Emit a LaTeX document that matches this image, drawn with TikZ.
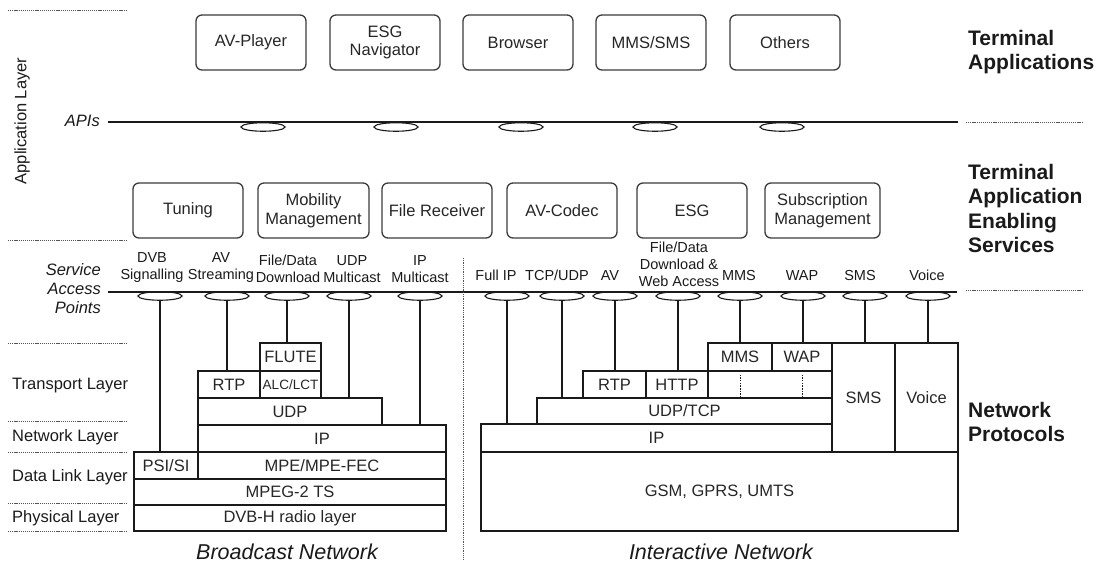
\documentclass[tikz,border=0pt]{standalone}
\usepackage{fontspec}
\setmainfont{Liberation Sans}
\usetikzlibrary{shapes.geometric,calc}

\definecolor{ink}{HTML}{1A1A1A}
\definecolor{txt}{HTML}{262626}
\definecolor{guidecol}{HTML}{555555}

% box spanning (x1,y1)-(x2,y2) in pixel units
\newcommand\spanbox[7]{%
  \pgfmathsetmacro\boxw{#5-#3}\pgfmathsetmacro\boxh{#6-#4}%
  \node[#1, minimum width=\boxw pt, minimum height=\boxh pt] (#2)
    at ({(#3+#5)/2},{(#4+#6)/2}) {#7};}

\begin{document}
\begin{tikzpicture}[x=1pt,y=-1pt,
  appbox/.style={draw=ink!85, line width=1.3pt, rounded corners=6pt, inner sep=0pt,
    align=center, text=txt, font=\fontsize{16.5}{18.5}\selectfont},
  proto/.style={draw=ink, line width=1.1pt, inner sep=0pt, align=center, text=txt,
    font=\fontsize{16.5}{18.5}\selectfont},
  sap/.style={draw=ink, ellipse, line width=1.1pt, minimum width=44pt,
    minimum height=8.5pt, inner sep=0pt},
  saplbl/.style={anchor=south, inner sep=0pt, align=center, text=ink,
    font=\fontsize{14.5}{17}\selectfont},
  conn/.style={draw=ink, line width=1.1pt},
  bus/.style={draw=ink, line width=1.4pt},
  guide/.style={draw=guidecol, line width=0.8pt, dash pattern=on 1.2pt off 0.9pt},
  passline/.style={draw=ink, line width=1pt, dash pattern=on 1.5pt off 1.2pt},
  layerlbl/.style={anchor=west, inner sep=0pt, text=ink, font=\fontsize{16.5}{19}\selectfont},
  heading/.style={anchor=north west, inner sep=0pt, align=left, text=ink,
    font=\fontsize{21}{24.5}\selectfont\bfseries},
  netlbl/.style={inner sep=0pt, text=ink, font=\fontsize{21.5}{24}\selectfont\itshape}
]
\useasboundingbox (0,0) rectangle (1101,566);

% ---------- left layer guides ----------
\foreach \y in {10,240,343,421,452,503,531}
  \draw[guide] (8,\y) -- (126,\y);
\draw[guide] (966,122) -- (1083,122);
\draw[guide] (966,290) -- (1083,290);

\node[rotate=90, inner sep=0pt, text=ink, font=\fontsize{16.5}{19}\selectfont] (applayer) at (22,121) {Application Layer};
\node[layerlbl] (ltrans) at (12,386) {Transport Layer};
\node[layerlbl] (lnet) at (12,437) {Network Layer};
\node[layerlbl] (llink) at (12,477) {Data Link Layer};
\node[layerlbl] (lphys) at (12,518) {Physical Layer};

% ---------- headings ----------
\node[heading] (htermapp) at (968,30) {Terminal\\Applications};
\node[heading] (htaes) at (968,164) {Terminal\\Application\\Enabling\\Services};
\node[heading] (hnetp) at (968,402) {Network\\Protocols};

% ---------- terminal applications ----------
\spanbox{appbox}{avp}{196}{15}{306}{70}{AV-Player}
\spanbox{appbox}{esgn}{330}{15}{440}{70}{ESG\\Navigator}
\spanbox{appbox}{brw}{463}{15}{573}{70}{Browser}
\spanbox{appbox}{mmsapp}{596}{15}{706}{70}{MMS/SMS}
\spanbox{appbox}{oth}{730}{15}{840}{70}{Others}

% ---------- API bus ----------
\node[anchor=east, inner sep=0pt, text=ink, font=\fontsize{16.5}{19}\selectfont\itshape] (apis) at (100,121) {APIs};
\coordinate (apiL) at (108,122);
\coordinate (apiR) at (958,122);
\draw[bus] (apiL) -- (apiR);
\foreach \x/\n in {263/a1,396/a2,521/a3,655/a4,782/a5}
  \node[sap] (\n) at (\x,127) {};

% ---------- enabling services ----------
\spanbox{appbox}{tun}{133}{183}{243}{238}{Tuning}
\spanbox{appbox}{mob}{258}{183}{369}{238}{Mobility\\Management}
\spanbox{appbox}{frx}{382}{183}{492}{238}{File Receiver}
\spanbox{appbox}{avc}{507}{183}{617}{238}{AV-Codec}
\spanbox{appbox}{esg}{637}{183}{747}{238}{ESG}
\spanbox{appbox}{sub}{765}{183}{880}{238}{Subscription\\Management}

% ---------- service access points ----------
\node[anchor=east, inner sep=0pt, align=right, text=ink,
  font=\fontsize{16.5}{19}\selectfont\itshape] (sapname) at (101,289) {Service\\Access\\Points};
\coordinate (sapL) at (108,292);
\coordinate (sapR) at (957,292);
\draw[bus] (sapL) -- (sapR);

\node[saplbl] (l1) at (152,283) {DVB\\Signalling};
\node[saplbl] (l2) at (221,283) {AV\\Streaming};
\node[saplbl] (l3) at (288,283) {File/Data\\Download};
\node[saplbl] (l4) at (352,283) {UDP\\Multicast};
\node[saplbl] (l5) at (420,283) {IP\\Multicast};
\node[saplbl] (l6) at (496,281) {Full IP};
\node[saplbl] (l7) at (557,281) {TCP/UDP};
\node[saplbl] (l8) at (610,281) {AV};
\node[saplbl] (l9) at (679,287) {File/Data\\Download \&\\Web Access};
\node[saplbl] (l10) at (739,281) {MMS};
\node[saplbl] (l11) at (802,281) {WAP};
\node[saplbl] (l12) at (860,281) {SMS};
\node[saplbl] (l13) at (927,281) {Voice};

\foreach \x/\n in {160/s1,227/s2,287/s3,349/s4,420/s5,507/s6,562/s7,615/s8,678/s9,740/s10,803/s11,865/s12,928/s13}
  \node[sap] (\n) at (\x,296) {};

% ---------- divider ----------
\coordinate (divT) at (463,258);
\coordinate (divB) at (463,560);
\draw[draw=guidecol, line width=0.9pt, dash pattern=on 1pt off 0.8pt] (divT) -- (divB);

% ---------- broadcast protocol stack ----------
\spanbox{proto}{flute}{260}{343}{321}{371}{FLUTE}
\spanbox{proto,font=\fontsize{13.5}{15}\selectfont}{alc}{260}{371}{321}{398}{ALC/LCT}
\spanbox{proto}{rtpb}{198}{371}{260}{398}{RTP}
\spanbox{proto}{udpb}{198}{398}{382}{425}{UDP}
\spanbox{proto}{ipb}{198}{425}{446}{452}{IP}
\spanbox{proto}{psi}{134}{452}{198}{479}{PSI/SI}
\spanbox{proto}{mpe}{198}{452}{446}{479}{MPE/MPE-FEC}
\spanbox{proto}{ts}{134}{479}{446}{505}{MPEG-2 TS}
\spanbox{proto}{dvbh}{134}{505}{446}{531}{DVB-H radio layer}

% ---------- interactive protocol stack ----------
\spanbox{proto}{mmsb}{708}{343}{772}{371}{MMS}
\spanbox{proto}{wapb}{772}{343}{832}{371}{WAP}
\spanbox{proto}{rtpi}{583}{371}{646}{398}{RTP}
\spanbox{proto}{http}{646}{371}{708}{398}{HTTP}
\spanbox{proto}{pass}{708}{371}{832}{398}{}
\spanbox{proto}{udpt}{537}{398}{832}{424}{UDP/TCP}
\spanbox{proto}{ipi}{481}{424}{832}{452}{IP}
\spanbox{proto}{smsb}{832}{343}{895}{452}{SMS}
\spanbox{proto}{voice}{895}{343}{958}{452}{Voice}
\spanbox{proto}{gsm}{481}{452}{958}{531}{GSM, GPRS, UMTS}

% dotted pass-through of MMS and WAP
\draw[passline] ($(mmsb.south)+(0,3)$) -- ($(mmsb.south |- pass.south)+(0,-2)$);
\draw[passline] ($(wapb.south)+(0,3)$) -- ($(wapb.south |- pass.south)+(0,-2)$);

% ---------- access point connectors ----------
\draw[conn] (s1.south) -- (s1.south |- psi.north);
\draw[conn] (s2.south) -- (s2.south |- rtpb.north);
\draw[conn] (s3.south) -- (s3.south |- flute.north);
\draw[conn] (s4.south) -- (s4.south |- udpb.north);
\draw[conn] (s5.south) -- (s5.south |- ipb.north);
\draw[conn] (s6.south) -- (s6.south |- ipi.north);
\draw[conn] (s7.south) -- (s7.south |- udpt.north);
\draw[conn] (s8.south) -- (s8.south |- rtpi.north);
\draw[conn] (s9.south) -- (s9.south |- http.north);
\draw[conn] (s10.south) -- (s10.south |- mmsb.north);
\draw[conn] (s11.south) -- (s11.south |- wapb.north);
\draw[conn] (s12.south) -- (s12.south |- smsb.north);
\draw[conn] (s13.south) -- (s13.south |- voice.north);

% ---------- network captions ----------
\node[netlbl] (bcast) at (287,552) {Broadcast Network};
\node[netlbl] (inter) at (721,552) {Interactive Network};
\end{tikzpicture}
\end{document}
